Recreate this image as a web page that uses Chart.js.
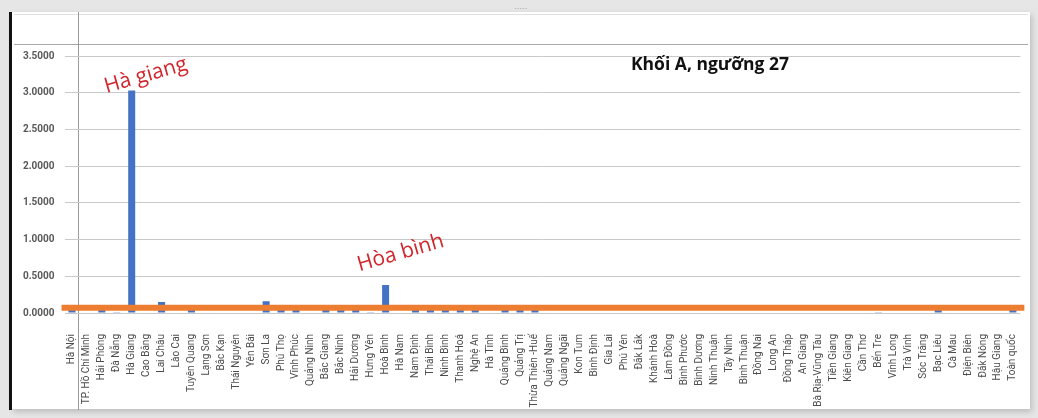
<!DOCTYPE html>
<html>
<head>
<meta charset="utf-8">
<script src="https://cdn.jsdelivr.net/npm/chart.js@4/dist/chart.umd.min.js"></script>
<style>
  html, body { margin: 0; padding: 0; }
  body { width: 1038px; height: 418px; background: #e6e6e6; position: relative; overflow: hidden; }
  .frame { position: absolute; left: 11px; top: 12px; width: 1019px; height: 397px; background: #fff;
           box-shadow: 2px 3px 6px rgba(0,0,0,0.18); }
  .edge { position: absolute; left: 9px; top: 12px; width: 3px; height: 398px; background: #111; }
  .vline { position: absolute; left: 78px; top: 12px; width: 1px; height: 398px; background: #9a9a9a; }
  .hline1 { position: absolute; left: 14px; top: 14px; width: 1014px; height: 1px; background: #e0e0e0; }
  .hline2 { position: absolute; left: 14px; top: 44px; width: 1014px; height: 1px; background: #a8a8a8; }
  .dots { position: absolute; left: 514px; top: 4px; font: 8px sans-serif; color: #888; }
  canvas { position: absolute; left: 0; top: 0; }
</style>
</head>
<body>
<div class="frame"></div>
<div class="hline1"></div>
<div class="hline2"></div>
<div class="vline"></div>
<div class="edge"></div>
<div class="dots">·····</div>
<canvas id="chart" width="1038" height="418"></canvas>
<script>
// tỉnh / thành phố
const provinces = [
  'Hà Nội', 'TP. Hồ Chí Minh', 'Hải Phòng', 'Đà Nẵng', 'Hà Giang', 'Cao Bằng', 'Lai Châu', 'Lào Cai',
  'Tuyên Quang', 'Lạng Sơn', 'Bắc Kạn', 'Thái Nguyên', 'Yên Bái', 'Sơn La', 'Phú Thọ', 'Vĩnh Phúc',
  'Quảng Ninh', 'Bắc Giang', 'Bắc Ninh', 'Hải Dương', 'Hưng Yên', 'Hoà Bình', 'Hà Nam', 'Nam Định',
  'Thái Bình', 'Ninh Bình', 'Thanh Hoá', 'Nghệ An', 'Hà Tĩnh', 'Quảng Bình', 'Quảng Trị', 'Thừa Thiên -Huế',
  'Quảng Nam', 'Quảng Ngãi', 'Kon Tum', 'Bình Định', 'Gia Lai', 'Phú Yên', 'Đắk Lắk', 'Khánh Hoà',
  'Lâm Đồng', 'Bình Phước', 'Bình Dương', 'Ninh Thuận', 'Tây Ninh', 'Bình Thuận', 'Đồng Nai', 'Long An',
  'Đồng Tháp', 'An Giang', 'Bà Rịa-Vũng Tàu', 'Tiền Giang', 'Kiên Giang', 'Cần Thơ', 'Bến Tre', 'Vĩnh Long',
  'Trà Vinh', 'Sóc Trăng', 'Bạc Liêu', 'Cà Mau', 'Điện Biên', 'Đắk Nông', 'Hậu Giang', 'Toàn quốc'
];

// tỉ lệ (%) thí sinh khối A đạt ngưỡng 27
const rates = [
  0.05, 0, 0.05, 0.01, 3.03, 0, 0.15, 0,
  0.05, 0, 0, 0, 0, 0.16, 0.05, 0.05,
  0, 0.05, 0.05, 0.05, 0.01, 0.38, 0, 0.05,
  0.05, 0.05, 0.05, 0.05, 0, 0.05, 0.05, 0.05,
  0, 0, 0, 0, 0, 0, 0, 0,
  0, 0, 0, 0, 0, 0, 0, 0,
  0, 0, 0, 0, 0, 0, 0.01, 0,
  0, 0, 0.05, 0, 0, 0, 0, 0.05
];

const threshold = 0.07;
const yTicks = [0, 0.5, 1, 1.5, 2, 2.5, 3, 3.5];

const chartTitle = 'Khối A, ngưỡng 27';
const notes = [
  { text: 'Hà giang', index: 4, value: 3.03 },
  { text: 'Hòa bình', index: 21, value: 0.38 }
];

const overlay = {
  id: 'overlay',
  afterDatasetsDraw(chart) {
    const ctx = chart.ctx;
    const x = chart.scales.x, y = chart.scales.y;
    const area = chart.chartArea;

    // đường ngưỡng màu cam
    const ty = y.getPixelForValue(threshold);
    ctx.save();
    ctx.strokeStyle = '#ED7D31';
    ctx.lineWidth = 6;
    ctx.beginPath();
    ctx.moveTo(area.left - 3, ty);
    ctx.lineTo(area.right + 4, ty);
    ctx.stroke();

    // tiêu đề
    ctx.fillStyle = '#111';
    ctx.font = 'bold 17.5px "Open Sans", sans-serif';
    ctx.textBaseline = 'middle';
    ctx.textAlign = 'left';
    ctx.fillText(chartTitle, 631, 65);

    // chú thích đỏ
    ctx.fillStyle = '#D0262C';
    ctx.font = '21px "Open Sans", sans-serif';
    ctx.textAlign = 'center';
    const offs = [[14, -15], [15, -32]];
    notes.forEach((n, i) => {
      const px = x.getPixelForValue(n.index) + offs[i][0];
      const py = y.getPixelForValue(n.value) + offs[i][1];
      ctx.save();
      ctx.translate(px, py);
      ctx.rotate(-16 * Math.PI / 180);
      ctx.fillText(n.text, 0, 0);
      ctx.restore();
    });
    ctx.restore();
  }
};

new Chart(document.getElementById('chart'), {
  type: 'bar',
  data: {
    labels: provinces,
    datasets: [{
      data: rates,
      backgroundColor: '#4472C4',
      categoryPercentage: 1,
      barPercentage: 0.47
    }]
  },
  options: {
    responsive: false,
    animation: false,
    layout: { padding: { left: 0, top: 56, right: 13.5, bottom: 0 } },
    plugins: { legend: { display: false }, tooltip: { enabled: false } },
    scales: {
      x: {
        afterFit(s) { s.height = 105; },
        grid: { display: false },
        border: { display: false },
        ticks: {
          autoSkip: false,
          minRotation: 90,
          maxRotation: 90,
          padding: 13,
          color: '#4d4d4d',
          font: { family: 'Roboto', size: 10 }
        }
      },
      y: {
        min: 0,
        max: 3.5,
        afterFit(s) { s.width = 64.5; },
        afterBuildTicks(s) { s.ticks = yTicks.map(v => ({ value: v })); },
        grid: { color: '#c9c9c9', drawTicks: false },
        border: { display: false },
        ticks: {
          padding: 10,
          color: '#595959',
          font: { family: 'Roboto', size: 10, weight: 'bold' },
          callback: v => v.toFixed(4)
        }
      }
    }
  },
  plugins: [overlay]
});
</script>
</body>
</html>
